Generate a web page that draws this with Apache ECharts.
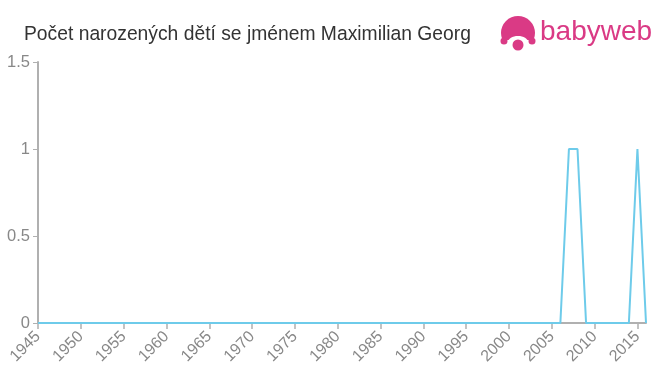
<!DOCTYPE html>
<html>
<head>
<meta charset="utf-8">
<script src="https://cdn.jsdelivr.net/npm/echarts@6/dist/echarts.min.js"></script>
<style>html,body{margin:0;padding:0;background:#fff}#c{width:660px;height:375px}</style>
</head>
<body>
<div id="c"></div>
<script>
var titleText = 'Počet narozených dětí se jménem Maximilian Georg';
var years = [];
for (var y = 1945; y <= 2016; y++) years.push(y);
var counts = [
  0,0,0,0,0, 0,0,0,0,0, 0,0,0,0,0, 0,0,0,0,0, // 1945-1964
  0,0,0,0,0, 0,0,0,0,0, 0,0,0,0,0, 0,0,0,0,0, // 1965-1984
  0,0,0,0,0, 0,0,0,0,0, 0,0,0,0,0, 0,0,0,0,0, // 1985-2004
  0,0,1,1,0, 0,0,0,0,0, 1,0                    // 2005-2016
];
var yTicks = [0, 0.5, 1, 1.5];

var pink = '#da3a85';
var chart = echarts.init(document.getElementById('c'), null, {renderer: 'canvas'});
chart.setOption({
  animation: false,
  title: {
    text: titleText, left: 19, top: 20,
    textStyle: {fontFamily: 'Liberation Sans, Arial, sans-serif', fontSize: 19.3, fontWeight: 'normal', color: '#333'}
  },
  graphic: [
    {type: 'circle', shape: {cx: 518, cy: 33, r: 17}, style: {fill: pink}},
    {type: 'rect', shape: {x: 499, y: 40, width: 38, height: 14}, style: {fill: '#fff'}},
    {type: 'ellipse', shape: {cx: 518, cy: 42, rx: 10, ry: 6}, style: {fill: '#fff'}},
    {type: 'circle', shape: {cx: 504, cy: 41, r: 3.5}, style: {fill: pink}},
    {type: 'circle', shape: {cx: 532, cy: 41, r: 3.5}, style: {fill: pink}},
    {type: 'circle', shape: {cx: 518, cy: 45, r: 5.5}, style: {fill: pink}},
    {type: 'text', left: 540, top: 18, style: {text: 'babyweb', fill: pink, font: '28px "Liberation Sans", Arial, sans-serif'}}
  ],
  grid: {left: 38, right: 14, top: 62, bottom: 52, containLabel: false},
  xAxis: {
    type: 'value', min: 1945, max: 2016, interval: 5,
    axisLine: {lineStyle: {color: '#b0b0b0', width: 2}},
    axisTick: {show: true, length: 6, lineStyle: {color: '#b0b0b0', width: 1.5}},
    splitLine: {show: false},
    axisLabel: {
      rotate: 45, color: '#888', fontSize: 16, fontFamily: 'Liberation Sans, Arial, sans-serif', margin: 11,
      showMaxLabel: false,
      formatter: function (v) { return String(v); }
    }
  },
  yAxis: {
    type: 'value', min: 0, max: 1.5, interval: 0.5,
    axisLine: {show: true, lineStyle: {color: '#b0b0b0', width: 2}},
    axisTick: {show: true, length: 5, lineStyle: {color: '#b0b0b0'}},
    splitLine: {show: false},
    axisLabel: {color: '#888', fontSize: 16.5, fontFamily: 'Liberation Sans, Arial, sans-serif', margin: 8,
      formatter: function (v) { return yTicks.indexOf(v) >= 0 ? String(v) : ''; }}
  },
  series: [{
    type: 'line',
    data: years.map(function (y, i) { return [y, counts[i]]; }),
    showSymbol: false,
    lineStyle: {color: '#6ecbea', width: 2},
    itemStyle: {color: '#6ecbea'}
  }]
});
</script>
</body>
</html>
